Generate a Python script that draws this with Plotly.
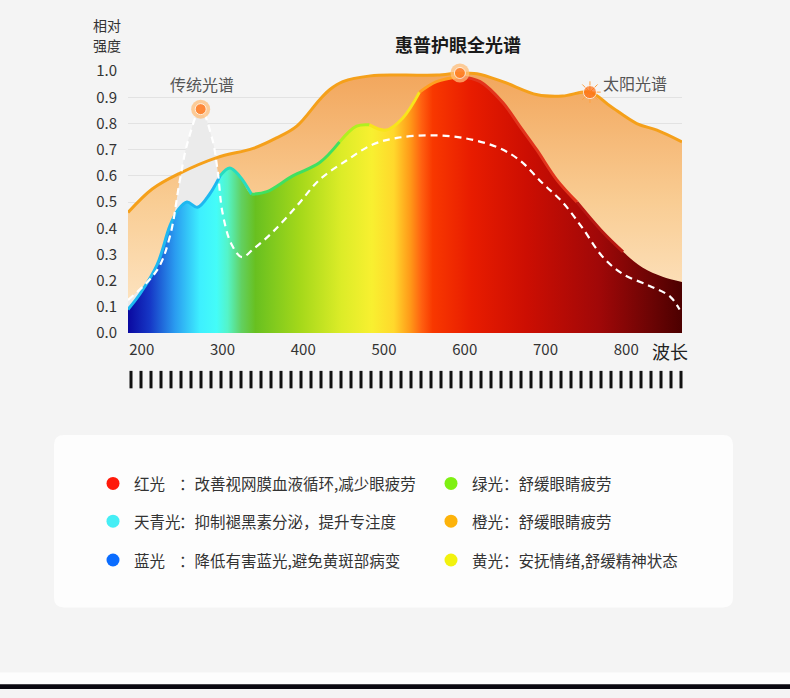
import plotly.graph_objects as go

W, H = 790, 698
FONT = "Noto Sans CJK SC"

# 太阳光谱 (orange curve)
sun_wl = [183, 213, 247, 293, 338, 367, 392, 420, 433, 449, 483, 523, 566, 594, 615, 647, 690, 721, 755, 780, 813, 838, 869]
sun_val = [0.46, 0.55, 0.61, 0.67, 0.705, 0.745, 0.79, 0.89, 0.93, 0.96, 0.982, 0.985, 0.985, 0.993, 0.99, 0.96, 0.91, 0.905, 0.92, 0.867, 0.80, 0.775, 0.73]

# 惠普护眼全光谱 (rainbow filled curve)
spec_wl = [183, 198, 219, 235, 245, 256, 269, 284, 297, 309, 321, 336, 355, 387, 420, 445, 466, 482, 503, 523, 544, 565, 594, 619, 647, 668, 689, 714, 739, 771, 796, 820, 845, 869]
spec_val = [0.09, 0.15, 0.26, 0.41, 0.47, 0.50, 0.48, 0.53, 0.60, 0.63, 0.60, 0.53, 0.54, 0.60, 0.65, 0.73, 0.79, 0.795, 0.775, 0.82, 0.92, 0.96, 0.98, 0.96, 0.88, 0.79, 0.70, 0.585, 0.50, 0.385, 0.31, 0.25, 0.215, 0.195]

# 传统光谱 (white dashed curve)
trad_wl = [183, 219, 235, 247, 257, 273, 287, 294, 300, 311, 324, 338, 362, 392, 420, 454, 486, 516, 557, 598, 640, 668, 697, 721, 746, 771, 796, 829, 854, 866]
trad_val = [0.126, 0.24, 0.37, 0.58, 0.73, 0.855, 0.745, 0.62, 0.46, 0.34, 0.29, 0.32, 0.385, 0.485, 0.585, 0.66, 0.72, 0.745, 0.755, 0.745, 0.71, 0.66, 0.57, 0.50, 0.40, 0.29, 0.225, 0.18, 0.14, 0.09]

y_ticks = [0.0, 0.1, 0.2, 0.3, 0.4, 0.5, 0.6, 0.7, 0.8, 0.9, 1.0]
x_ticks = [200, 300, 400, 500, 600, 700, 800]

legend_names = ["红光", "天青光", "蓝光", "绿光", "橙光", "黄光"]
legend_desc = ["：改善视网膜血液循环,减少眼疲劳", "：抑制褪黑素分泌，提升专注度", "：降低有害蓝光,避免黄斑部病变",
               "：舒缓眼睛疲劳", "：舒缓眼睛疲劳", "：安抚情绪,舒缓精神状态"]
legend_colors = ["#ff1a0a", "#45eef5", "#0a6cff", "#7ef012", "#fdb30a", "#f2f20e"]

rainbow = [[0, "#0a08a0"], [0.04, "#1638c6"], [0.085, "#2a9cf0"], [0.13, "#3ef0ff"], [0.16, "#44fcf8"],
           [0.18, "#54f4c8"], [0.205, "#62d060"], [0.23, "#68c020"], [0.31, "#a4d81a"], [0.385, "#dcec28"],
           [0.44, "#f8f030"], [0.48, "#ffd82c"], [0.51, "#ff9818"], [0.53, "#ff6010"], [0.55, "#f83800"],
           [0.62, "#e81c00"], [0.72, "#cc0e02"], [0.85, "#a00808"], [0.94, "#6e0404"], [1, "#4c0000"]]

line_parts = [(183, 297, "#1eb8f0"), (297, 336, "#26dcc0"), (336, 445, "#40e060"), (445, 482, "#b0f020"),
              (482, 544, "#f8e41c"), (544, 594, "#ffa020"), (594, 739, "#e2341c"), (739, 796, "#b81812")]

fig = go.Figure()

# sun fill
fig.add_trace(go.Scatter(x=sun_wl, y=sun_val, mode="lines", line=dict(width=0, shape="spline"),
                         fill="tozeroy",
                         fillgradient=dict(type="vertical", colorscale=[[0, "#fee9cc"], [0.5, "#f9cd94"], [1, "#f2a65c"]]),
                         hoverinfo="skip", showlegend=False))
# traditional grey area
fig.add_trace(go.Scatter(x=trad_wl, y=trad_val, mode="lines", line=dict(width=0, shape="spline"),
                         fill="tozeroy", fillcolor="#ebebeb", hoverinfo="skip", showlegend=False))
# sun line
fig.add_trace(go.Scatter(x=sun_wl, y=sun_val, mode="lines", line=dict(width=3, color="#f5a01a", shape="spline"),
                         hoverinfo="skip", showlegend=False))
# full spectrum fill
fig.add_trace(go.Scatter(x=spec_wl, y=spec_val, mode="lines", line=dict(width=0, shape="spline"),
                         fill="tozeroy", fillgradient=dict(type="horizontal", colorscale=rainbow),
                         hoverinfo="skip", showlegend=False))
for lo, hi, c in line_parts:
    xs = [w for w in spec_wl if lo <= w <= hi]
    ys = [v for w, v in zip(spec_wl, spec_val) if lo <= w <= hi]
    fig.add_trace(go.Scatter(x=xs, y=ys, mode="lines", line=dict(width=3, color=c, shape="spline"),
                             hoverinfo="skip", showlegend=False))
# traditional dashed line
fig.add_trace(go.Scatter(x=trad_wl, y=trad_val, mode="lines",
                         line=dict(width=2.2, color="white", dash="7px,5px", shape="spline"),
                         hoverinfo="skip", showlegend=False))

# highlighted points
ti = trad_val.index(max(trad_val))
si = sun_val.index(max(sun_val))
ki = sun_wl.index(755)
fig.add_trace(go.Scatter(x=[trad_wl[ti], sun_wl[si]], y=[trad_val[ti], sun_val[si]], mode="markers",
                         marker=dict(size=19, color="rgba(255,190,120,0.75)"), cliponaxis=False,
                         hoverinfo="skip", showlegend=False))
fig.add_trace(go.Scatter(x=[sun_wl[ki]], y=[sun_val[ki]], mode="markers",
                         marker=dict(size=18, symbol="asterisk-open", color="#ffa040",
                                     line=dict(color="#ffa040", width=1)),
                         cliponaxis=False, hoverinfo="skip", showlegend=False))
fig.add_trace(go.Scatter(x=[trad_wl[ti], sun_wl[si], sun_wl[ki]], y=[trad_val[ti], sun_val[si], sun_val[ki]],
                         mode="markers", marker=dict(size=[11, 11, 13], color="#ff6e12"), cliponaxis=False,
                         hoverinfo="skip", showlegend=False))

# legend dots on pixel overlay axes
lx = [113, 113, 113, 451, 451, 451]
ly = [486, 525, 565, 486, 525, 565]
fig.add_trace(go.Scatter(x=lx, y=ly, xaxis="x2", yaxis="y2", mode="markers",
                         marker=dict(size=13, color=legend_colors), hoverinfo="skip", showlegend=False))

ann = []
def text(x, y, s, size, color="#333", xanchor="left", weight="normal"):
    ann.append(dict(x=x, y=y, xref="x2", yref="y2", text=s, showarrow=False, xanchor=xanchor, yanchor="middle",
                    font=dict(family=FONT, size=size, color=color, weight=weight)))

text(107, 13, "相对", 14, xanchor="center")
text(107, 34, "强度", 14, xanchor="center")
text(458, 33, "惠普护眼全光谱", 18, color="#1a1a1a", xanchor="center", weight="bold")
text(202, 74, "传统光谱", 16, color="#555", xanchor="center")
text(635, 73, "太阳光谱", 16, color="#555", xanchor="center")
text(670, 350, "波长", 18, color="#222", xanchor="center")
for i in range(6):
    tx = 132 if i < 3 else 470
    text(tx, ly[i], legend_names[i], 15.5, color="#333")
    dx = 177 if i < 3 else tx + 15.5 * len(legend_names[i])
    text(dx, ly[i], legend_desc[i], 15.5, color="#333")

shapes = []
# legend card
x0, y0, x1, y1, r = 54, 436, 733, 614, 10
card = (f"M {x0+r},{y0} L {x1-r},{y0} Q {x1},{y0} {x1},{y0+r} L {x1},{y1-r} Q {x1},{y1} {x1-r},{y1} "
        f"L {x0+r},{y1} Q {x0},{y1} {x0},{y1-r} L {x0},{y0+r} Q {x0},{y0} {x0+r},{y0} Z")
shapes.append(dict(type="path", path=card, xref="x2", yref="y2", fillcolor="#fdfdfd", line=dict(width=0), layer="below"))
# ruler ticks
for k in range(56):
    bx = 131 + k * 10
    shapes.append(dict(type="line", xref="x2", yref="y2", x0=bx, x1=bx, y0=370, y1=388,
                       line=dict(color="#111", width=3)))
# bottom strips
shapes.append(dict(type="rect", xref="x2", yref="y2", x0=0, x1=W, y0=681, y1=693, fillcolor="#fdfdfd", line=dict(width=0)))
shapes.append(dict(type="rect", xref="x2", yref="y2", x0=0, x1=W, y0=693, y1=H, fillcolor="#0a0810", line=dict(width=0)))

fig.update_layout(
    width=W, height=H, autosize=False,
    margin=dict(l=0, r=0, t=0, b=0),
    paper_bgcolor="#f4f4f4", plot_bgcolor="rgba(0,0,0,0)",
    font=dict(family=FONT, color="#333"),
    xaxis=dict(domain=[128 / W, 682 / W], range=[183, 869], tickvals=x_ticks, showgrid=False, zeroline=False,
               showline=False, ticks="", ticklabelstandoff=6, tickfont=dict(size=15, color="#333"), fixedrange=True),
    yaxis=dict(domain=[1 - 331 / H, 1 - 61 / H], range=[0, 1.0], tickvals=y_ticks, tickformat=".1f",
               showgrid=True, gridcolor="#e2e2e2", gridwidth=1, zeroline=False, showline=False, ticks="",
               ticklabelstandoff=10, tickfont=dict(size=15, color="#333"), fixedrange=True),
    xaxis2=dict(domain=[0, 1], range=[0, W], visible=False, anchor="y2", fixedrange=True),
    yaxis2=dict(domain=[0, 1], range=[H, 0], visible=False, anchor="x2", fixedrange=True),
    annotations=ann, shapes=shapes,
)

fig.write_html("out.html", config={"displayModeBar": False},
               post_script="document.body.style.margin='0';document.body.style.overflow='hidden';"
                           "document.body.style.background='#f4f4f4';")
